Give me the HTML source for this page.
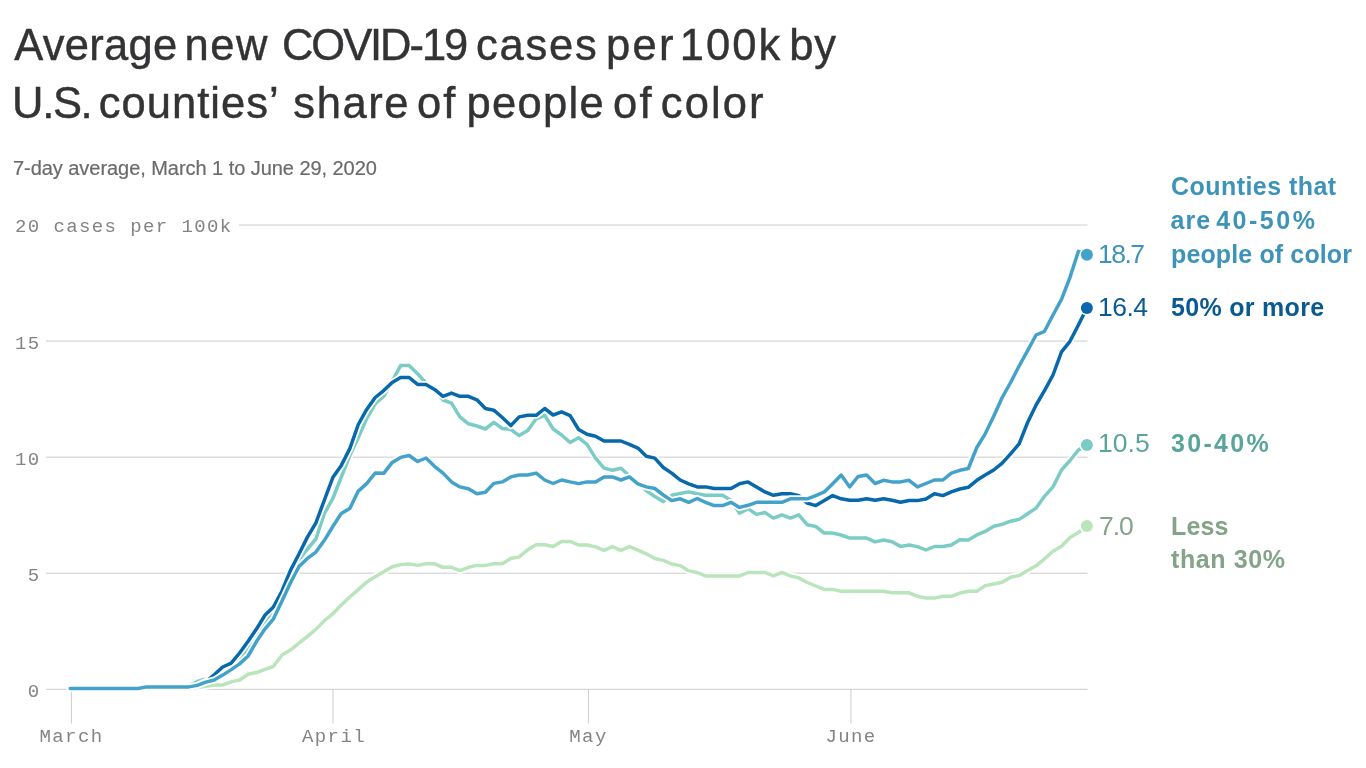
<!DOCTYPE html>
<html lang="en"><head><meta charset="utf-8"><title>Average new COVID-19 cases per 100k</title>
<style>
html,body{margin:0;padding:0;background:#fff;}
svg{display:block;}
.sans{font-family:"Liberation Sans",Arial,Helvetica,sans-serif;}
.mono{font-family:"Liberation Mono","DejaVu Sans Mono",monospace;}
.title{font-size:43.5px;fill:#333335;stroke:#333335;stroke-width:0.45px;}
.sub{font-size:20px;fill:#6b6b6d;stroke:#6b6b6d;stroke-width:0.2px;}
.ax{font-size:19px;fill:#848484;letter-spacing:1.4px;}
.val{font-size:26.5px;letter-spacing:-1px;}
.lab{font-size:25px;font-weight:bold;letter-spacing:0.13px;}
.grid line{stroke:#cccccc;stroke-width:1;}
.ln{fill:none;stroke-linejoin:round;stroke-linecap:round;}
</style></head><body>
<svg width="1366" height="768" viewBox="0 0 1366 768">
<rect width="1366" height="768" fill="#ffffff"/>
<text class="sans title" y="59.8"><tspan x="14.2" style="letter-spacing:0.30px">Average</tspan> <tspan x="184.5" style="letter-spacing:1.50px">new</tspan> <tspan x="282.0" style="letter-spacing:-2.06px">COVID-19</tspan> <tspan x="476.0" style="letter-spacing:1.75px">cases</tspan> <tspan x="606.0" style="letter-spacing:2.35px">per</tspan> <tspan x="679.8" style="letter-spacing:2.03px">100k</tspan> <tspan x="789.2" style="letter-spacing:0.80px">by</tspan></text>
<text class="sans title" y="117.7"><tspan x="12.1" style="letter-spacing:-1.33px">U.S.</tspan> <tspan x="98.7" style="letter-spacing:1.04px">counties’</tspan> <tspan x="293.3" style="letter-spacing:1.60px">share</tspan> <tspan x="417.0" style="letter-spacing:2.10px">of</tspan> <tspan x="466.5" style="letter-spacing:1.32px">people</tspan> <tspan x="613.0" style="letter-spacing:2.20px">of</tspan> <tspan x="660.8" style="letter-spacing:2.08px">color</tspan></text>
<text class="sans sub" x="13" y="174.6" style="letter-spacing:-0.05px">7-day average, March 1 to June 29, 2020</text>
<g class="grid">
<line x1="239" x2="1087.5" y1="225" y2="225"/>
<line x1="46" x2="1087.5" y1="341.1" y2="341.1"/>
<line x1="46" x2="1087.5" y1="457.15" y2="457.15"/>
<line x1="46" x2="1087.5" y1="573.2" y2="573.2"/>
<line x1="46" x2="1087.5" y1="689.3" y2="689.3"/>
<line x1="71.4" x2="71.4" y1="689" y2="723.5"/>
<line x1="333" x2="333" y1="689" y2="723.5"/>
<line x1="588.4" x2="588.4" y1="689" y2="723.5"/>
<line x1="850.9" x2="850.9" y1="689" y2="723.5"/>
</g>
<g class="mono ax">
<text x="15" y="232.4">20 cases per 100k</text>
<text x="15" y="348.5">15</text>
<text x="15" y="464.5">10</text>
<text x="27.8" y="580.6">5</text>
<text x="27.8" y="696.7">0</text>
<text x="71.5" y="741.8" text-anchor="middle">March</text>
<text x="334" y="741.8" text-anchor="middle">April</text>
<text x="588.5" y="741.8" text-anchor="middle">May</text>
<text x="851" y="741.8" text-anchor="middle">June</text>
</g>

<path class="ln" d="M70.2,688.5L78.7,688.5L87.1,688.5L95.6,688.5L104.1,688.5L112.6,688.5L121.0,688.5L129.5,688.5L138.0,688.5L146.5,688.5L154.9,688.5L163.4,688.5L171.9,688.5L180.3,688.5L188.8,688.5L197.3,687.6L205.8,686.3L214.2,685.0L222.7,684.9L231.2,681.9L239.6,680.0L248.1,674.2L256.6,672.5L265.1,669.4L273.5,666.3L282.0,655.0L290.5,650.0L299.0,643.1L307.4,636.3L315.9,629.4L324.4,620.6L332.8,613.8L341.3,605.0L349.8,597.0L358.3,589.6L366.7,582.1L375.2,576.8L383.7,571.7L392.2,566.7L400.6,564.6L409.1,563.9L417.6,565.4L426.0,563.8L434.5,563.8L443.0,567.3L451.5,567.3L459.9,570.6L468.4,567.3L476.9,565.4L485.4,565.4L493.8,563.8L502.3,563.8L510.8,558.5L519.2,556.9L527.7,549.8L536.2,544.8L544.7,544.8L553.1,546.5L561.6,541.4L570.1,541.4L578.6,545.0L587.0,545.0L595.5,546.9L604.0,550.3L612.4,546.6L620.9,550.3L629.4,546.6L637.9,550.1L646.3,553.8L654.8,558.5L663.3,560.4L671.7,564.0L680.2,565.6L688.7,570.9L697.2,572.5L705.6,575.9L714.1,575.9L722.6,575.9L731.1,575.9L739.5,575.9L748.0,572.5L756.5,572.5L764.9,572.5L773.4,575.9L781.9,572.3L790.4,576.0L798.8,577.9L807.3,582.5L815.8,586.0L824.3,589.4L832.7,589.4L841.2,591.3L849.7,591.3L858.1,591.3L866.6,591.3L875.1,591.3L883.6,591.3L892.0,592.8L900.5,592.8L909.0,592.8L917.5,596.3L925.9,598.1L934.4,598.1L942.9,596.3L951.3,596.3L959.8,593.1L968.3,591.3L976.8,591.3L985.2,585.6L993.7,584.0L1002.2,582.3L1010.6,577.3L1019.1,575.6L1027.6,570.5L1036.1,565.8L1044.5,558.8L1053.0,551.3L1061.5,546.3L1070.0,537.5L1078.4,532.5L1086.9,526.1" stroke="#ffffff" stroke-width="7"/>
<path class="ln" d="M70.2,688.5L78.7,688.5L87.1,688.5L95.6,688.5L104.1,688.5L112.6,688.5L121.0,688.5L129.5,688.5L138.0,688.5L146.5,688.5L154.9,688.5L163.4,688.5L171.9,688.5L180.3,688.5L188.8,688.5L197.3,687.6L205.8,686.3L214.2,685.0L222.7,684.9L231.2,681.9L239.6,680.0L248.1,674.2L256.6,672.5L265.1,669.4L273.5,666.3L282.0,655.0L290.5,650.0L299.0,643.1L307.4,636.3L315.9,629.4L324.4,620.6L332.8,613.8L341.3,605.0L349.8,597.0L358.3,589.6L366.7,582.1L375.2,576.8L383.7,571.7L392.2,566.7L400.6,564.6L409.1,563.9L417.6,565.4L426.0,563.8L434.5,563.8L443.0,567.3L451.5,567.3L459.9,570.6L468.4,567.3L476.9,565.4L485.4,565.4L493.8,563.8L502.3,563.8L510.8,558.5L519.2,556.9L527.7,549.8L536.2,544.8L544.7,544.8L553.1,546.5L561.6,541.4L570.1,541.4L578.6,545.0L587.0,545.0L595.5,546.9L604.0,550.3L612.4,546.6L620.9,550.3L629.4,546.6L637.9,550.1L646.3,553.8L654.8,558.5L663.3,560.4L671.7,564.0L680.2,565.6L688.7,570.9L697.2,572.5L705.6,575.9L714.1,575.9L722.6,575.9L731.1,575.9L739.5,575.9L748.0,572.5L756.5,572.5L764.9,572.5L773.4,575.9L781.9,572.3L790.4,576.0L798.8,577.9L807.3,582.5L815.8,586.0L824.3,589.4L832.7,589.4L841.2,591.3L849.7,591.3L858.1,591.3L866.6,591.3L875.1,591.3L883.6,591.3L892.0,592.8L900.5,592.8L909.0,592.8L917.5,596.3L925.9,598.1L934.4,598.1L942.9,596.3L951.3,596.3L959.8,593.1L968.3,591.3L976.8,591.3L985.2,585.6L993.7,584.0L1002.2,582.3L1010.6,577.3L1019.1,575.6L1027.6,570.5L1036.1,565.8L1044.5,558.8L1053.0,551.3L1061.5,546.3L1070.0,537.5L1078.4,532.5L1086.9,526.1" stroke="#bae4bc" stroke-width="3.5"/>
<path class="ln" d="M70.2,688.5L78.7,688.5L87.1,688.5L95.6,688.5L104.1,688.5L112.6,688.5L121.0,688.5L129.5,688.5L138.0,688.5L146.5,686.9L154.9,686.9L163.4,686.9L171.9,686.9L180.3,686.9L188.8,685.5L197.3,681.5L205.8,679.0L214.2,676.0L222.7,671.0L231.2,666.0L239.6,658.0L248.1,648.0L256.6,635.0L265.1,622.0L273.5,612.0L282.0,596.0L290.5,576.0L299.0,560.0L307.4,549.0L315.9,539.0L324.4,513.4L332.8,498.5L341.3,477.0L349.8,455.5L358.3,437.5L366.7,418.5L375.2,403.8L383.7,396.3L392.2,381.3L400.6,365.6L409.1,365.6L417.6,373.8L426.0,383.0L434.5,389.4L443.0,400.0L451.5,403.1L459.9,416.9L468.4,423.8L476.9,426.0L485.4,429.0L493.8,422.4L502.3,428.5L510.8,429.4L519.2,435.6L527.7,430.6L536.2,418.8L544.7,415.4L553.1,428.8L561.6,435.0L570.1,442.5L578.6,437.7L587.0,444.4L595.5,458.2L604.0,468.1L612.4,470.2L620.9,468.2L629.4,475.8L637.9,482.5L646.3,490.8L654.8,496.5L663.3,501.6L671.7,495.3L680.2,493.5L688.7,491.9L697.2,493.8L705.6,495.3L714.1,495.3L722.6,495.3L731.1,500.6L739.5,513.1L748.0,508.6L756.5,514.4L764.9,512.5L773.4,518.1L781.9,514.8L790.4,518.1L798.8,514.8L807.3,524.8L815.8,526.5L824.3,533.1L832.7,533.1L841.2,535.0L849.7,538.1L858.1,538.1L866.6,538.1L875.1,541.9L883.6,540.0L892.0,541.8L900.5,546.4L909.0,545.0L917.5,546.6L925.9,550.0L934.4,546.5L942.9,546.5L951.3,545.0L959.8,539.8L968.3,539.9L976.8,534.9L985.2,531.4L993.7,526.2L1002.2,524.4L1010.6,521.2L1019.1,519.4L1027.6,513.8L1036.1,508.1L1044.5,496.3L1053.0,486.9L1061.5,470.0L1070.0,460.5L1078.4,450.0L1086.9,444.9" stroke="#ffffff" stroke-width="7"/>
<path class="ln" d="M70.2,688.5L78.7,688.5L87.1,688.5L95.6,688.5L104.1,688.5L112.6,688.5L121.0,688.5L129.5,688.5L138.0,688.5L146.5,686.9L154.9,686.9L163.4,686.9L171.9,686.9L180.3,686.9L188.8,685.5L197.3,681.5L205.8,679.0L214.2,676.0L222.7,671.0L231.2,666.0L239.6,658.0L248.1,648.0L256.6,635.0L265.1,622.0L273.5,612.0L282.0,596.0L290.5,576.0L299.0,560.0L307.4,549.0L315.9,539.0L324.4,513.4L332.8,498.5L341.3,477.0L349.8,455.5L358.3,437.5L366.7,418.5L375.2,403.8L383.7,396.3L392.2,381.3L400.6,365.6L409.1,365.6L417.6,373.8L426.0,383.0L434.5,389.4L443.0,400.0L451.5,403.1L459.9,416.9L468.4,423.8L476.9,426.0L485.4,429.0L493.8,422.4L502.3,428.5L510.8,429.4L519.2,435.6L527.7,430.6L536.2,418.8L544.7,415.4L553.1,428.8L561.6,435.0L570.1,442.5L578.6,437.7L587.0,444.4L595.5,458.2L604.0,468.1L612.4,470.2L620.9,468.2L629.4,475.8L637.9,482.5L646.3,490.8L654.8,496.5L663.3,501.6L671.7,495.3L680.2,493.5L688.7,491.9L697.2,493.8L705.6,495.3L714.1,495.3L722.6,495.3L731.1,500.6L739.5,513.1L748.0,508.6L756.5,514.4L764.9,512.5L773.4,518.1L781.9,514.8L790.4,518.1L798.8,514.8L807.3,524.8L815.8,526.5L824.3,533.1L832.7,533.1L841.2,535.0L849.7,538.1L858.1,538.1L866.6,538.1L875.1,541.9L883.6,540.0L892.0,541.8L900.5,546.4L909.0,545.0L917.5,546.6L925.9,550.0L934.4,546.5L942.9,546.5L951.3,545.0L959.8,539.8L968.3,539.9L976.8,534.9L985.2,531.4L993.7,526.2L1002.2,524.4L1010.6,521.2L1019.1,519.4L1027.6,513.8L1036.1,508.1L1044.5,496.3L1053.0,486.9L1061.5,470.0L1070.0,460.5L1078.4,450.0L1086.9,444.9" stroke="#7bccc4" stroke-width="3.5"/>
<path class="ln" d="M70.2,688.5L78.7,688.5L87.1,688.5L95.6,688.5L104.1,688.5L112.6,688.5L121.0,688.5L129.5,688.5L138.0,688.5L146.5,686.9L154.9,686.9L163.4,686.9L171.9,686.9L180.3,686.9L188.8,686.9L197.3,685.4L205.8,681.5L214.2,674.8L222.7,667.0L231.2,663.1L239.6,653.0L248.1,641.3L256.6,628.8L265.1,615.0L273.5,606.9L282.0,591.0L290.5,570.3L299.0,554.0L307.4,537.1L315.9,522.8L324.4,500.0L332.8,477.6L341.3,465.4L349.8,448.6L358.3,424.5L366.7,409.4L375.2,397.5L383.7,390.6L392.2,382.5L400.6,377.5L409.1,377.5L417.6,384.4L426.0,384.4L434.5,389.4L443.0,396.3L451.5,393.1L459.9,396.3L468.4,396.3L476.9,399.8L485.4,408.5L493.8,410.2L502.3,417.5L510.8,425.6L519.2,416.9L527.7,415.3L536.2,415.3L544.7,408.5L553.1,415.0L561.6,411.9L570.1,415.6L578.6,429.5L587.0,434.2L595.5,436.3L604.0,441.0L612.4,441.0L620.9,441.0L629.4,444.4L637.9,448.1L646.3,456.2L654.8,458.1L663.3,467.5L671.7,473.1L680.2,480.0L688.7,483.8L697.2,486.9L705.6,486.9L714.1,488.5L722.6,488.5L731.1,488.5L739.5,483.8L748.0,481.9L756.5,486.9L764.9,491.9L773.4,495.3L781.9,493.8L790.4,493.8L798.8,495.6L807.3,503.1L815.8,505.6L824.3,500.6L832.7,495.6L841.2,498.8L849.7,500.3L858.1,500.3L866.6,498.8L875.1,500.3L883.6,498.8L892.0,500.3L900.5,502.3L909.0,500.5L917.5,500.6L925.9,499.0L934.4,493.8L942.9,495.6L951.3,491.9L959.8,489.0L968.3,487.3L976.8,480.3L985.2,475.0L993.7,470.0L1002.2,463.1L1010.6,453.8L1019.1,443.8L1027.6,422.5L1036.1,405.0L1044.5,390.6L1053.0,375.0L1061.5,351.9L1070.0,341.3L1078.4,325.0L1086.9,308.0" stroke="#ffffff" stroke-width="7"/>
<path class="ln" d="M70.2,688.5L78.7,688.5L87.1,688.5L95.6,688.5L104.1,688.5L112.6,688.5L121.0,688.5L129.5,688.5L138.0,688.5L146.5,686.9L154.9,686.9L163.4,686.9L171.9,686.9L180.3,686.9L188.8,686.9L197.3,685.4L205.8,681.5L214.2,674.8L222.7,667.0L231.2,663.1L239.6,653.0L248.1,641.3L256.6,628.8L265.1,615.0L273.5,606.9L282.0,591.0L290.5,570.3L299.0,554.0L307.4,537.1L315.9,522.8L324.4,500.0L332.8,477.6L341.3,465.4L349.8,448.6L358.3,424.5L366.7,409.4L375.2,397.5L383.7,390.6L392.2,382.5L400.6,377.5L409.1,377.5L417.6,384.4L426.0,384.4L434.5,389.4L443.0,396.3L451.5,393.1L459.9,396.3L468.4,396.3L476.9,399.8L485.4,408.5L493.8,410.2L502.3,417.5L510.8,425.6L519.2,416.9L527.7,415.3L536.2,415.3L544.7,408.5L553.1,415.0L561.6,411.9L570.1,415.6L578.6,429.5L587.0,434.2L595.5,436.3L604.0,441.0L612.4,441.0L620.9,441.0L629.4,444.4L637.9,448.1L646.3,456.2L654.8,458.1L663.3,467.5L671.7,473.1L680.2,480.0L688.7,483.8L697.2,486.9L705.6,486.9L714.1,488.5L722.6,488.5L731.1,488.5L739.5,483.8L748.0,481.9L756.5,486.9L764.9,491.9L773.4,495.3L781.9,493.8L790.4,493.8L798.8,495.6L807.3,503.1L815.8,505.6L824.3,500.6L832.7,495.6L841.2,498.8L849.7,500.3L858.1,500.3L866.6,498.8L875.1,500.3L883.6,498.8L892.0,500.3L900.5,502.3L909.0,500.5L917.5,500.6L925.9,499.0L934.4,493.8L942.9,495.6L951.3,491.9L959.8,489.0L968.3,487.3L976.8,480.3L985.2,475.0L993.7,470.0L1002.2,463.1L1010.6,453.8L1019.1,443.8L1027.6,422.5L1036.1,405.0L1044.5,390.6L1053.0,375.0L1061.5,351.9L1070.0,341.3L1078.4,325.0L1086.9,308.0" stroke="#0868ac" stroke-width="3.5"/>
<path class="ln" d="M70.2,688.5L78.7,688.5L87.1,688.5L95.6,688.5L104.1,688.5L112.6,688.5L121.0,688.5L129.5,688.5L138.0,688.5L146.5,686.9L154.9,686.9L163.4,686.9L171.9,686.9L180.3,686.9L188.8,686.9L197.3,685.4L205.8,682.1L214.2,680.0L222.7,675.1L231.2,669.6L239.6,663.9L248.1,656.0L256.6,641.3L265.1,628.8L273.5,618.8L282.0,601.0L290.5,582.8L299.0,566.5L307.4,558.4L315.9,552.1L324.4,540.3L332.8,526.5L341.3,513.4L349.8,508.4L358.3,491.1L366.7,483.6L375.2,473.0L383.7,473.3L392.2,462.4L400.6,457.4L409.1,455.5L417.6,461.5L426.0,458.0L434.5,466.3L443.0,473.1L451.5,481.9L459.9,486.9L468.4,488.8L476.9,493.8L485.4,492.3L493.8,483.4L502.3,481.9L510.8,476.9L519.2,475.0L527.7,475.0L536.2,473.1L544.7,480.0L553.1,483.5L561.6,480.0L570.1,481.9L578.6,483.6L587.0,481.9L595.5,481.9L604.0,476.9L612.4,476.9L620.9,480.0L629.4,476.9L637.9,483.8L646.3,486.9L654.8,488.5L663.3,495.0L671.7,500.6L680.2,498.8L688.7,502.3L697.2,498.5L705.6,502.3L714.1,505.6L722.6,505.6L731.1,502.3L739.5,507.4L748.0,505.3L756.5,502.3L764.9,502.3L773.4,502.3L781.9,502.3L790.4,498.8L798.8,498.8L807.3,498.8L815.8,495.6L824.3,491.9L832.7,483.8L841.2,475.0L849.7,486.9L858.1,476.5L866.6,475.0L875.1,483.5L883.6,480.3L892.0,481.9L900.5,481.9L909.0,480.3L917.5,486.9L925.9,483.5L934.4,480.0L942.9,480.0L951.3,473.1L959.8,470.3L968.3,468.5L976.8,447.5L985.2,433.8L993.7,416.3L1002.2,397.5L1010.6,382.5L1019.1,366.0L1027.6,350.6L1036.1,335.0L1044.5,331.3L1053.0,315.0L1061.5,299.4L1070.0,277.3L1078.4,251.3L1086.9,254.7" stroke="#ffffff" stroke-width="7"/>
<path class="ln" d="M70.2,688.5L78.7,688.5L87.1,688.5L95.6,688.5L104.1,688.5L112.6,688.5L121.0,688.5L129.5,688.5L138.0,688.5L146.5,686.9L154.9,686.9L163.4,686.9L171.9,686.9L180.3,686.9L188.8,686.9L197.3,685.4L205.8,682.1L214.2,680.0L222.7,675.1L231.2,669.6L239.6,663.9L248.1,656.0L256.6,641.3L265.1,628.8L273.5,618.8L282.0,601.0L290.5,582.8L299.0,566.5L307.4,558.4L315.9,552.1L324.4,540.3L332.8,526.5L341.3,513.4L349.8,508.4L358.3,491.1L366.7,483.6L375.2,473.0L383.7,473.3L392.2,462.4L400.6,457.4L409.1,455.5L417.6,461.5L426.0,458.0L434.5,466.3L443.0,473.1L451.5,481.9L459.9,486.9L468.4,488.8L476.9,493.8L485.4,492.3L493.8,483.4L502.3,481.9L510.8,476.9L519.2,475.0L527.7,475.0L536.2,473.1L544.7,480.0L553.1,483.5L561.6,480.0L570.1,481.9L578.6,483.6L587.0,481.9L595.5,481.9L604.0,476.9L612.4,476.9L620.9,480.0L629.4,476.9L637.9,483.8L646.3,486.9L654.8,488.5L663.3,495.0L671.7,500.6L680.2,498.8L688.7,502.3L697.2,498.5L705.6,502.3L714.1,505.6L722.6,505.6L731.1,502.3L739.5,507.4L748.0,505.3L756.5,502.3L764.9,502.3L773.4,502.3L781.9,502.3L790.4,498.8L798.8,498.8L807.3,498.8L815.8,495.6L824.3,491.9L832.7,483.8L841.2,475.0L849.7,486.9L858.1,476.5L866.6,475.0L875.1,483.5L883.6,480.3L892.0,481.9L900.5,481.9L909.0,480.3L917.5,486.9L925.9,483.5L934.4,480.0L942.9,480.0L951.3,473.1L959.8,470.3L968.3,468.5L976.8,447.5L985.2,433.8L993.7,416.3L1002.2,397.5L1010.6,382.5L1019.1,366.0L1027.6,350.6L1036.1,335.0L1044.5,331.3L1053.0,315.0L1061.5,299.4L1070.0,277.3L1078.4,251.3L1086.9,254.7" stroke="#43a2ca" stroke-width="3.5"/>
<circle cx="1086.9" cy="526.1" r="6" fill="#bae4bc" stroke="#ffffff" stroke-width="3" paint-order="stroke"/>
<circle cx="1086.9" cy="444.9" r="6" fill="#7bccc4" stroke="#ffffff" stroke-width="3" paint-order="stroke"/>
<circle cx="1086.9" cy="308.0" r="6" fill="#0868ac" stroke="#ffffff" stroke-width="3" paint-order="stroke"/>
<circle cx="1086.9" cy="254.7" r="6" fill="#43a2ca" stroke="#ffffff" stroke-width="3" paint-order="stroke"/>
<g class="sans val">
<text x="1098" y="263.2" fill="#3d93b8" style="letter-spacing:-1.5px">18.7</text>
<text x="1098" y="316.2" fill="#0a5a92" style="letter-spacing:-0.5px">16.4</text>
<text x="1098" y="452.3" fill="#5aa59b" style="letter-spacing:0.05px">10.5</text>
<text x="1099" y="534.6" fill="#84a389">7.0</text>
</g>
<g class="sans lab">
<text x="1171" y="195" fill="#3d93b8" style="letter-spacing:0.45px">Counties that</text>
<text class="l2" y="228.8"  fill="#3d93b8"><tspan x="1170.5" style="letter-spacing:1.00px">are</tspan> <tspan x="1216.2" style="letter-spacing:2.50px">40-50%</tspan></text>
<text x="1171" y="262.8" fill="#3d93b8">people of color</text>
<text x="1171" y="316.2" fill="#0a5a92" style="letter-spacing:0.3px">50% or more</text>
<text x="1171" y="452.3" fill="#5aa59b" style="letter-spacing:2.3px">30-40%</text>
<text x="1171" y="534.5" fill="#84a389">Less</text>
<text x="1171" y="568.3" fill="#84a389" style="letter-spacing:0.62px">than 30%</text>
</g>
</svg>
</body></html>
